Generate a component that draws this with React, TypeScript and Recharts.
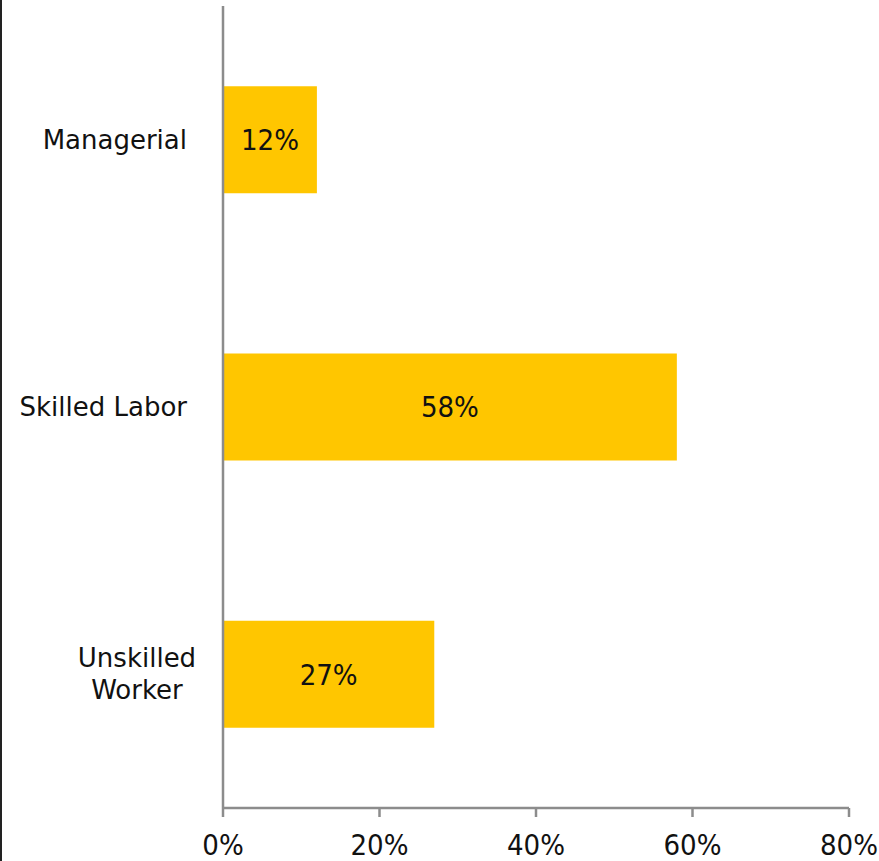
import { BarChart, Bar, XAxis, YAxis, LabelList } from 'recharts'

const CATEGORIES = ['Managerial', 'Skilled Labor', 'Unskilled\nWorker']
const SHARES = [12, 58, 27]
const X_TICKS = [0, 20, 40, 60, 80]

const BAR_COLOR = '#ffc600'
const AXIS_COLOR = '#8c8c8c'
const FONT = '"DejaVu Sans", Verdana, sans-serif'
const NUM_FONT = '"Liberation Sans Narrow", "DejaVu Sans Condensed", sans-serif'

const data = CATEGORIES.map((name, i) => ({ name, share: SHARES[i] }))

// category labels: right aligned, wrapped ones are centred like excel does it
function CategoryTick(props: any) {
  const { x, y, payload } = props
  const lines: string[] = String(payload.value).split('\n')
  if (lines.length === 1) {
    return (
      <text x={x} y={y} dy="0.35em" textAnchor="end" fill="#111" fontSize={26} fontFamily={FONT}>
        {lines[0]}
      </text>
    )
  }
  const lh = 32
  const top = y - ((lines.length - 1) * lh) / 2
  return (
    <text textAnchor="middle" fill="#111" fontSize={26} fontFamily={FONT}>
      {lines.map((l, i) => (
        <tspan key={i} x={x - 50} y={top + i * lh} dy="0.35em">
          {l}
        </tspan>
      ))}
    </text>
  )
}

export default function App() {
  return (
    <div
      style={{
        position: 'absolute',
        left: 0,
        top: 0,
        width: 879,
        height: 861,
        background: '#fff',
        overflow: 'hidden',
      }}
    >
      <div style={{ position: 'absolute', left: 0, top: 0, width: 2, height: 861, background: '#222' }} />
      <BarChart
        layout="vertical"
        width={879}
        height={861}
        data={data}
        margin={{ top: 6, right: 30, left: 0, bottom: 0 }}
        barCategoryGap="30%"
      >
        <XAxis
          type="number"
          domain={[0, 80]}
          ticks={X_TICKS}
          tickFormatter={(v: number) => `${v}%`}
          height={53}
          axisLine={{ stroke: AXIS_COLOR, strokeWidth: 2.5 }}
          tickLine={{ stroke: AXIS_COLOR, strokeWidth: 2.5 }}
          tickSize={9}
          tickMargin={17}
          tick={{ fill: '#111', fontSize: 29, fontFamily: NUM_FONT }}
          interval={0}
        />
        <YAxis
          type="category"
          dataKey="name"
          width={223}
          axisLine={{ stroke: AXIS_COLOR, strokeWidth: 2.5 }}
          tickLine={false}
          tickSize={0}
          tickMargin={36}
          tick={<CategoryTick />}
          interval={0}
        />
        <Bar dataKey="share" fill={BAR_COLOR} isAnimationActive={false}>
          <LabelList
            dataKey="share"
            position="center"
            formatter={(v: any) => `${v}%`}
            fill="#111"
            fontSize={29}
            fontFamily={NUM_FONT}
          />
        </Bar>
      </BarChart>
    </div>
  )
}
